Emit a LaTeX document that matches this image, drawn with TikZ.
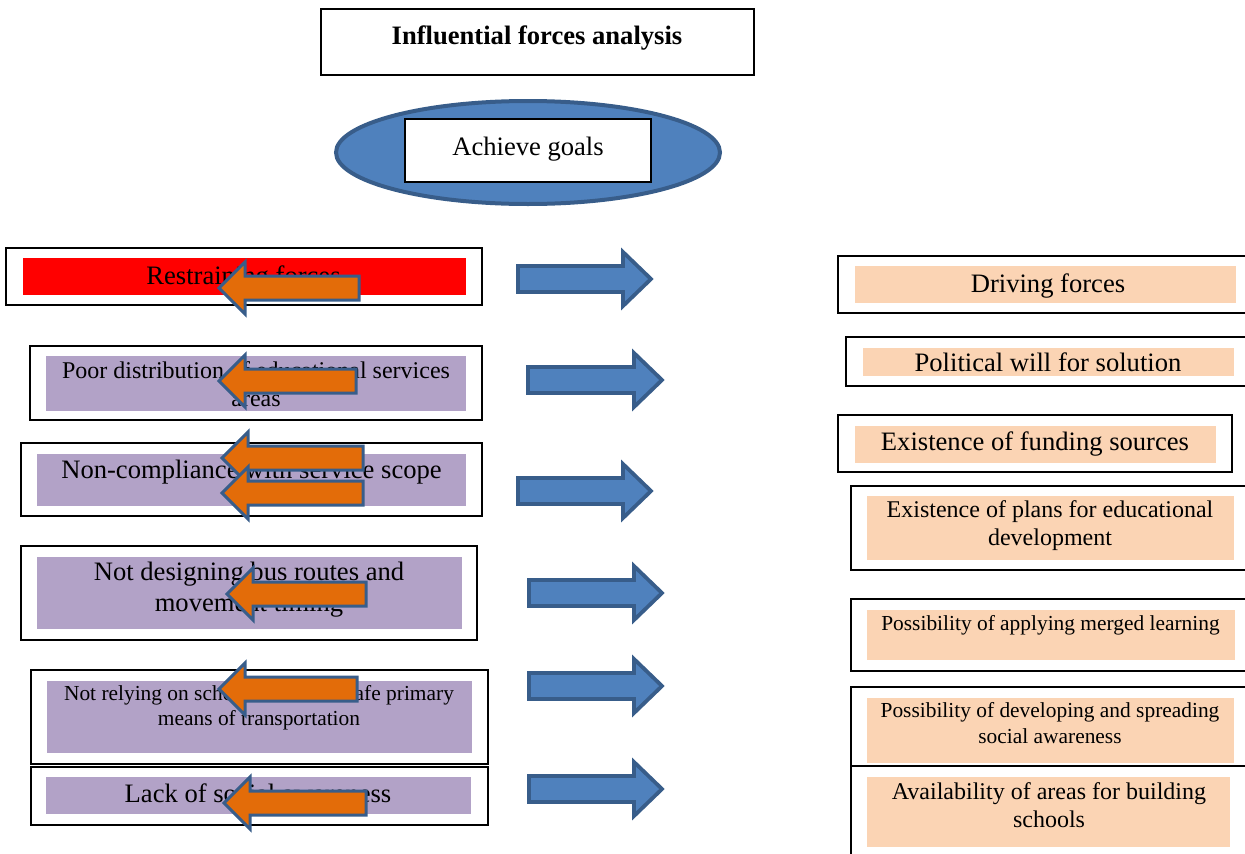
\documentclass[tikz,border=0pt]{standalone}
\usepackage{fontspec}
\setmainfont{Liberation Serif}
\usetikzlibrary{shapes.geometric}

\definecolor{restrainred}{HTML}{FF0000}
\definecolor{lavender}{HTML}{B2A2C7}
\definecolor{peach}{HTML}{FBD4B4}
\definecolor{officeblue}{HTML}{4F81BD}
\definecolor{officeedge}{HTML}{385D8A}
\definecolor{pushorange}{HTML}{E36C09}

\newcommand\bigtext{\fontsize{26.6}{30}\selectfont}
\newcommand\midtext{\fontsize{24}{29}\selectfont}
\newcommand\smalltext{\fontsize{21.4}{27}\selectfont}

\tikzset{
  obox/.style={draw=black, line width=1.6pt, fill=white, rectangle, inner sep=0pt},
  fillbox/.style={rectangle, inner sep=0pt, draw=none},
  label/.style={anchor=base, inner sep=0pt, text=black},
  oarrow/.style={draw=officeedge, fill=pushorange, line width=3pt, line join=miter},
  barrow/.style={draw=officeedge, fill=officeblue, line width=3.8pt, line join=miter},
  % left-pointing push arrow, tip at the pic origin, #1 = length to the tail
  pics/lpush/.style={code={
    \draw[oarrow] (0,0) -- (26,-26) -- (26,-12) -- (#1,-12) -- (#1,12)
      -- (26,12) -- (26,26) -- cycle;}},
  % right-pointing block arrow, tail centre at the pic origin, #1 = length
  pics/rpush/.style={code={
    \draw[barrow] (0,-13) -- (#1-28,-13) -- (#1-28,-27) -- (#1,0) -- (#1-28,27)
      -- (#1-28,13) -- (0,13) -- cycle;}}
}

\begin{document}
\begin{tikzpicture}[x=1pt, y=-1pt]
\useasboundingbox (0,0) rectangle (1245,854);
\clip (0,0) rectangle (1245,854);

% heading
\node[obox, minimum width=433, minimum height=66] (title) at (537.5,42) {};
\node[label, font=\bigtext\bfseries] (titletext) at (537,44) {Influential forces analysis};

% goal ellipse
\node[ellipse, draw=officeedge, fill=officeblue, line width=4pt,
      minimum width=384, minimum height=103, inner sep=0pt] (goal) at (528,152.5) {};
\node[obox, line width=1.4pt, minimum width=246, minimum height=63] (goalbox) at (528,150.5) {};
\node[label, font=\bigtext] (goaltext) at (528,155) {Achieve goals};

% restraining side: frames
\node[obox, minimum width=476, minimum height=57] (L1) at (244,276.5) {};
\node[obox, minimum width=452, minimum height=74] (L2) at (256,383) {};
\node[obox, minimum width=461, minimum height=73] (L3) at (251.5,479.5) {};
\node[obox, minimum width=456, minimum height=94] (L4) at (249,593) {};
\node[obox, minimum width=457, minimum height=94] (L5) at (259.5,717) {};
\node[obox, minimum width=457, minimum height=58] (L6) at (259.5,796) {};

% restraining side: coloured panels
\node[fillbox, fill=restrainred, minimum width=443, minimum height=37] (F1) at (244.5,276.5) {};
\node[fillbox, fill=lavender, minimum width=420, minimum height=55] (F2) at (256,383.5) {};
\node[fillbox, fill=lavender, minimum width=429, minimum height=52] (F3) at (251.5,480) {};
\node[fillbox, fill=lavender, minimum width=425, minimum height=72] (F4) at (249.5,593) {};
\node[fillbox, fill=lavender, minimum width=425, minimum height=72] (F5) at (259.5,717) {};
\node[fillbox, fill=lavender, minimum width=425, minimum height=37] (F6) at (258.5,795.5) {};

% restraining side: texts
\node[label, font=\bigtext] (T1) at (243.5,284) {Restraining forces};
\node[label, font=\midtext] (T2a) at (256,378) {Poor distribution of educational services};
\node[label, font=\midtext] (T2b) at (256,406) {areas};
\node[label, font=\bigtext] (T3) at (251.5,478) {Non-compliance with service scope};
\node[label, font=\bigtext] (T4a) at (249,580) {Not designing bus routes and};
\node[label, font=\bigtext] (T4b) at (249,611) {movement timing};
\node[label, font=\smalltext] (T5a) at (259,700) {Not relying on school buses as a safe primary};
\node[label, font=\smalltext] (T5b) at (259,725) {means of transportation};
\node[label, font=\bigtext] (T6) at (258,802) {Lack of social awareness};

% driving side: frames
\node[obox, minimum width=422, minimum height=57] (R1) at (1049,284.5) {};
\node[obox, minimum width=414, minimum height=49] (R2) at (1053,361.5) {};
\node[obox, minimum width=394, minimum height=57] (R3) at (1035,443.5) {};
\node[obox, minimum width=409, minimum height=84] (R4) at (1055.5,528) {};
\node[obox, minimum width=409, minimum height=72] (R5) at (1055.5,635) {};
\node[obox, minimum width=409, minimum height=79] (R6) at (1055.5,726.5) {};
\node[obox, minimum width=409, minimum height=104] (R7) at (1055.5,818) {};

% driving side: coloured panels
\node[fillbox, fill=peach, minimum width=381, minimum height=37] (G1) at (1045.5,284.5) {};
\node[fillbox, fill=peach, minimum width=371, minimum height=28] (G2) at (1048.5,362) {};
\node[fillbox, fill=peach, minimum width=361, minimum height=37] (G3) at (1035.5,444.5) {};
\node[fillbox, fill=peach, minimum width=367, minimum height=64] (G4) at (1050.5,528) {};
\node[fillbox, fill=peach, minimum width=368, minimum height=50] (G5) at (1051,635) {};
\node[fillbox, fill=peach, minimum width=367, minimum height=65] (G6) at (1050.5,730.5) {};
\node[fillbox, fill=peach, minimum width=363, minimum height=70] (G7) at (1048.5,812) {};

% driving side: texts
\node[label, font=\bigtext] (D1) at (1048,292) {Driving forces};
\node[label, font=\bigtext] (D2) at (1048,371) {Political will for solution};
\node[label, font=\bigtext] (D3) at (1035,450) {Existence of funding sources};
\node[label, font=\midtext] (D4a) at (1050,517) {Existence of plans for educational};
\node[label, font=\midtext] (D4b) at (1050,545) {development};
\node[label, font=\smalltext] (D5) at (1050.5,630) {Possibility of applying merged learning};
\node[label, font=\smalltext] (D6a) at (1050,717) {Possibility of developing and spreading};
\node[label, font=\smalltext] (D6b) at (1050,743) {social awareness};
\node[label, font=\midtext] (D7a) at (1049,799) {Availability of areas for building};
\node[label, font=\midtext] (D7b) at (1049,827) {schools};

% restraining push arrows
\pic at (219,288) {lpush=140};
\pic at (219,381) {lpush=137};
\pic at (222,458) {lpush=141};
\pic at (222,493) {lpush=141};
\pic at (227,594) {lpush=139};
\pic at (219,689) {lpush=138};
\pic at (224,803) {lpush=142};

% driving push arrows
\pic at (518,279) {rpush=133};
\pic at (528,380) {rpush=134};
\pic at (518,491) {rpush=133};
\pic at (529,593) {rpush=133};
\pic at (529,686) {rpush=133};
\pic at (529,789) {rpush=133};
\end{tikzpicture}
\end{document}
